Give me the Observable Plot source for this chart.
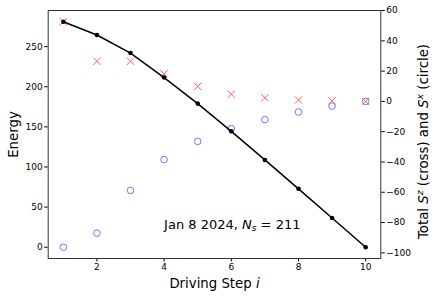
<!DOCTYPE html>
<html><head><meta charset="utf-8">
<script src="https://cdn.jsdelivr.net/npm/d3@7"></script>
<script src="https://cdn.jsdelivr.net/npm/@observablehq/plot@0.6"></script>
<style>body{margin:0;background:#fff;} svg{font-family:"DejaVu Sans",sans-serif;}</style>
</head><body><div id="chart"></div>
<script>
const steps = [1, 2, 3, 4, 5, 6, 7, 8, 9, 10];
const energy = [281, 264.5, 242, 211.5, 179, 144.4, 108.8, 72.8, 36.4, 0];
const totalSz = [52.6, 26.5, 26.5, 18.2, 9.9, 4.8, 2.4, 0.9, 0.4, 0];
const totalSx = [-96.3, -87, -58.8, -38.4, -26.4, -18, -12, -7, -3.1, 0];
const xTicks = [2, 4, 6, 8, 10];
const leftTicks = [0, 50, 100, 150, 200, 250];
const rightTicks = [-100, -80, -60, -40, -20, 0, 20, 40, 60];
const annotation = "Jan 8 2024, N_s = 211";

const leftDomain = [-14.05, 295.05];
const rightDomain = [-103.75, 60.05];
const toLeft = v => leftDomain[0] + (v - rightDomain[0]) / (rightDomain[1] - rightDomain[0]) * (leftDomain[1] - leftDomain[0]);
const toRight = v => rightDomain[0] + (v - leftDomain[0]) / (leftDomain[1] - leftDomain[0]) * (rightDomain[1] - rightDomain[0]);
const fmt = v => { const r = Math.round(v); return r < 0 ? "\u2212" + (-r) : String(r); };

const rows = steps.map((s, i) => ({step: s, energy: energy[i], sz: totalSz[i], sx: totalSx[i]}));

const chart = Plot.plot({
  width: 436,
  height: 298,
  marginLeft: 47.7,
  marginRight: 55.7,
  marginTop: 10,
  marginBottom: 40,
  style: {fontFamily: '"DejaVu Sans", sans-serif', fontSize: "9px", color: "black", background: "white"},
  x: {domain: [0.55, 10.45]},
  y: {domain: leftDomain},
  marks: [
    Plot.axisX(xTicks, {tickSize: 3.5, tickPadding: 2, label: null}),
    Plot.axisY(leftTicks, {anchor: "left", tickSize: 3.5, tickPadding: 2, label: null}),
    Plot.axisY(rightTicks.map(toLeft), {anchor: "right", tickSize: 3.5, tickPadding: 2, label: null, tickFormat: d => fmt(toRight(d))}),
    Plot.dot(rows, {x: "step", y: d => toLeft(d.sx), r: 3.3, stroke: "#7373ff", strokeWidth: 1, fill: "none"}),
    Plot.dot(rows, {x: "step", y: d => toLeft(d.sz), r: 3.4, symbol: "times", stroke: "#ff5c5c", strokeWidth: 1}),
    Plot.line(rows, {x: "step", y: "energy", stroke: "black", strokeWidth: 1.5}),
    Plot.dot(rows, {x: "step", y: "energy", r: 2.3, fill: "black"}),
    Plot.text([annotation], {x: () => 4, y: () => 27.7, textAnchor: "start", lineAnchor: "middle", fontSize: 13}),
    Plot.text(["Energy"], {frameAnchor: "left", dx: -34.7, rotate: -90, textAnchor: "middle", lineAnchor: "middle", fontSize: 13.3}),
    Plot.text(["Driving Step i"], {frameAnchor: "bottom", dy: 25, textAnchor: "middle", lineAnchor: "middle", fontSize: 13.3}),
    Plot.text(["Total S^z (cross) and S^x (circle)"], {frameAnchor: "right", dx: 43, dy: 7, rotate: -90, textAnchor: "middle", lineAnchor: "middle", fontSize: 13.3}),
    Plot.frame({stroke: "#333", strokeWidth: 1})
  ]
});
document.getElementById("chart").append(chart);

const it = t => `<tspan font-style="italic">${t}</tspan>`;
const sup = t => `<tspan font-style="italic" font-size="9.3px" baseline-shift="super">${t}</tspan>`;
const sub = t => `<tspan font-style="italic" font-size="9px" baseline-shift="-20%">${t}</tspan>`;
d3.select(chart).selectAll("text").each(function() {
  const s = this.textContent;
  if (s === "Driving Step i") this.innerHTML = "Driving Step " + it("i");
  else if (s === "Total S^z (cross) and S^x (circle)") this.innerHTML = "Total " + it("S") + sup("z") + " (cross) and " + it("S") + sup("x") + " (circle)";
  else if (s === annotation) this.innerHTML = "Jan 8 2024, " + it("N") + sub("s") + " = 211";
});
</script></body></html>
